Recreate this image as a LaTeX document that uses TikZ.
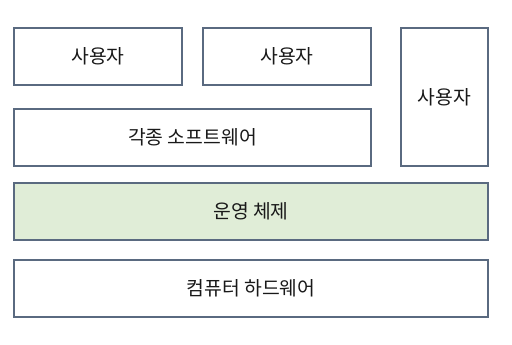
\documentclass[tikz,border=0pt]{standalone}
\usepackage{fontspec}
\newfontfamily\kr{Noto Sans CJK KR}
\definecolor{edge}{HTML}{5A6A80}
\definecolor{osfill}{HTML}{E0EDD7}
\begin{document}
\begin{tikzpicture}[x=0.75pt,y=-0.75pt,
  box/.style={draw=edge,line width=0.8pt,fill=white,font=\kr\fontsize{14.5}{16}\selectfont,text=black!90}]
\useasboundingbox (0,0) rectangle (512,344);
\fill[white] (0,0) rectangle (512,344);
\node[box,minimum width=168*0.75pt,minimum height=57*0.75pt] (u1) at (98,56.5) {사용자};
\node[box,minimum width=168*0.75pt,minimum height=57*0.75pt] (u2) at (287,56.5) {사용자};
\node[box,minimum width=87*0.75pt,minimum height=138*0.75pt] (u3) at (444.5,97) {사용자};
\node[box,minimum width=357*0.75pt,minimum height=57*0.75pt] (sw) at (192.5,137.5) {각종 소프트웨어};
\node[box,fill=osfill,minimum width=474*0.75pt,minimum height=57*0.75pt] (os) at (251,211.5) {운영 체제};
\node[box,minimum width=474*0.75pt,minimum height=57*0.75pt] (hw) at (251,288.5) {컴퓨터 하드웨어};
\end{tikzpicture}
\end{document}
